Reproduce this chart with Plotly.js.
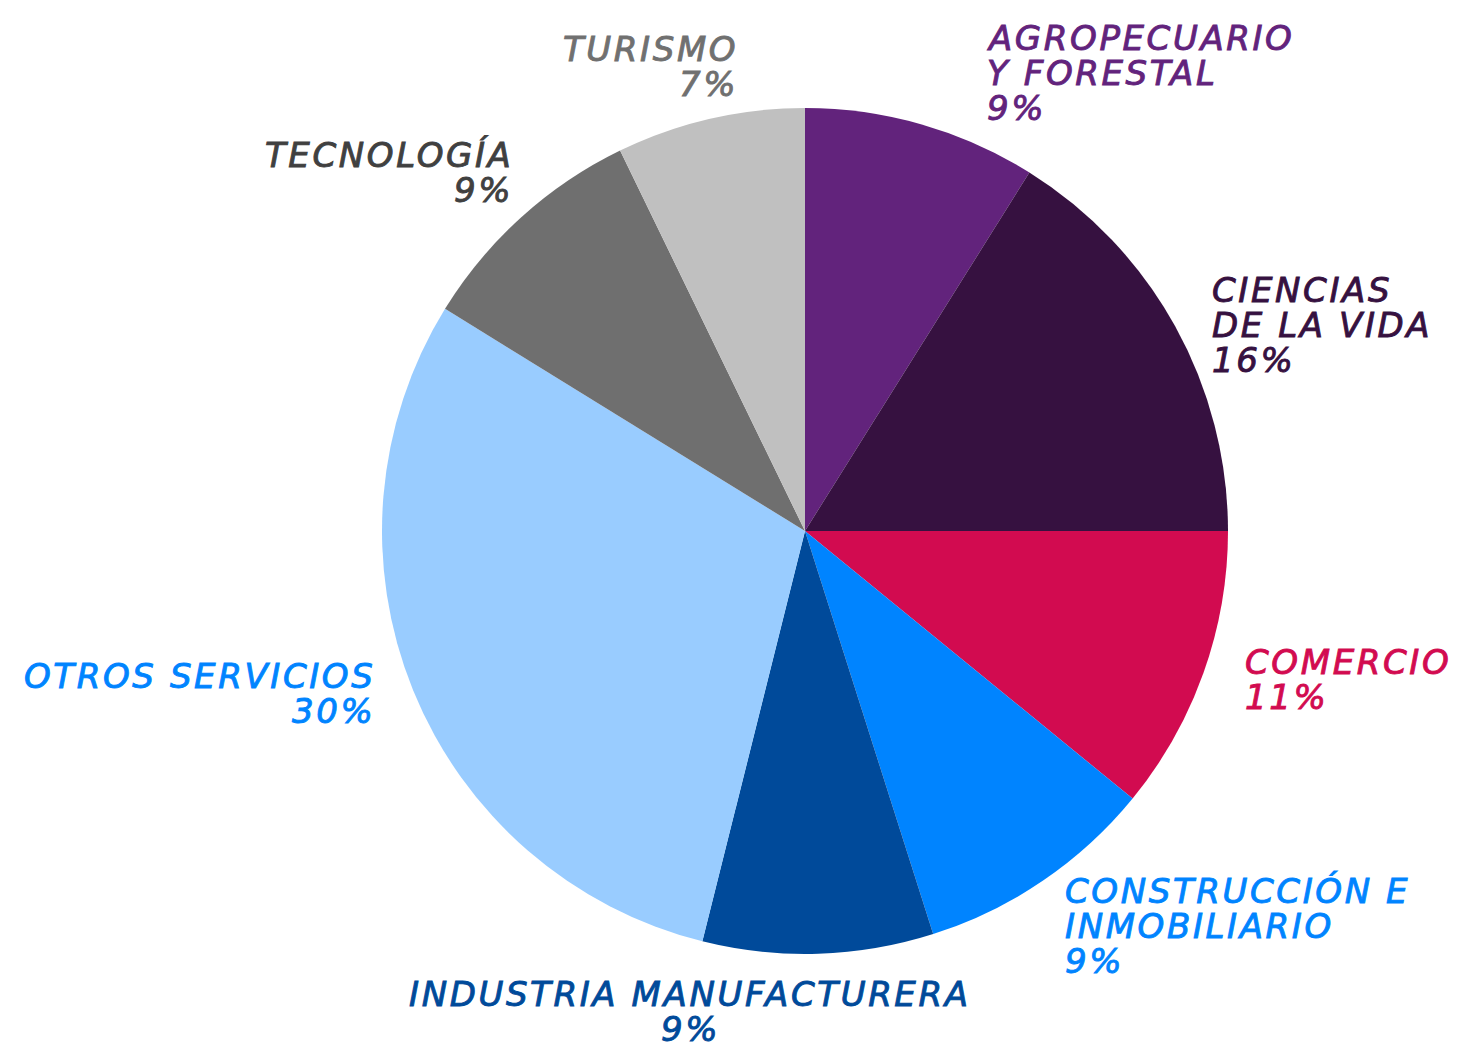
<!DOCTYPE html>
<html>
<head>
<meta charset="utf-8">
<script src="https://cdn.plot.ly/plotly-3.0.1.min.js"></script>
<style>
  html, body { margin: 0; padding: 0; background: #ffffff; }
  #chart { width: 1460px; height: 1044px; }
  .annotation-text { letter-spacing: 2.6px; }
</style>
</head>
<body>
<div id="chart"></div>
<script>
// ---- data ----
const categories = [
  "AGROPECUARIO<br>Y FORESTAL",
  "CIENCIAS<br>DE LA VIDA",
  "COMERCIO",
  "CONSTRUCCIÓN E<br>INMOBILIARIO",
  "INDUSTRIA MANUFACTURERA",
  "OTROS SERVICIOS",
  "TECNOLOGÍA",
  "TURISMO"
];
const shares = [8.9, 16.1, 10.9, 9.2, 8.8, 29.9, 9.0, 7.2];

// ---- styles ----
const sliceColors = ["#62237C", "#361140", "#D20B50", "#0084FF", "#004A9A", "#99CCFF", "#6F6F6F", "#C0C0C0"];
const labelColors = ["#62237C", "#361140", "#D20B50", "#0084FF", "#004A9A", "#0084FF", "#404040", "#707070"];
// label block placement (pixel anchor of first line, anchor side)
const labelPlace = [
  {x: 985, y: 38, side: "left"},
  {x: 1210, y: 290, side: "left"},
  {x: 1243, y: 662, side: "left"},
  {x: 1063, y: 891, side: "left"},
  {x: 690, y: 994, side: "center"},
  {x: 377, y: 676, side: "right"},
  {x: 515, y: 155, side: "right"},
  {x: 740, y: 49, side: "right"}
];

const W = 1460, H = 1044;
const FONT = "DejaVu Sans";
const FS = 34;
const LINE = 35;

const total = shares.reduce((a, b) => a + b, 0);
const annotations = [];
categories.forEach((c, i) => {
  const lines = c.split("<br>");
  lines.push(Math.round(shares[i] / total * 100) + "%");
  const p = labelPlace[i];
  lines.forEach((ln, j) => {
    annotations.push({
      xref: "paper", yref: "paper",
      x: p.x / W, y: 1 - p.y / H,
      xanchor: p.side, yanchor: "middle",
      align: p.side,
      yshift: -j * LINE,
      showarrow: false,
      text: ln,
      font: {family: FONT, size: FS, color: labelColors[i], style: "italic"}
    });
  });
});

const trace = {
  type: "pie",
  labels: categories,
  values: shares,
  sort: false,
  direction: "clockwise",
  rotation: 0,
  textinfo: "none",
  hoverinfo: "label+percent",
  marker: {colors: sliceColors, line: {width: 0}},
  domain: {x: [(805 - 423) / W, (805 + 423) / W], y: [(513 - 423) / H, (513 + 423) / H]},
  showlegend: false
};

const layout = {
  width: W, height: H,
  margin: {l: 0, r: 0, t: 0, b: 0},
  paper_bgcolor: "#ffffff",
  plot_bgcolor: "#ffffff",
  showlegend: false,
  annotations: annotations
};

Plotly.newPlot("chart", [trace], layout, {displayModeBar: false, staticPlot: true}).then(() => {
  // slightly heavier strokes to mimic a medium-weight face
  document.querySelectorAll(".annotation-text").forEach(t => {
    t.style.stroke = t.style.fill;
    t.style.strokeWidth = "0.9px";
  });
});
</script>
</body>
</html>
